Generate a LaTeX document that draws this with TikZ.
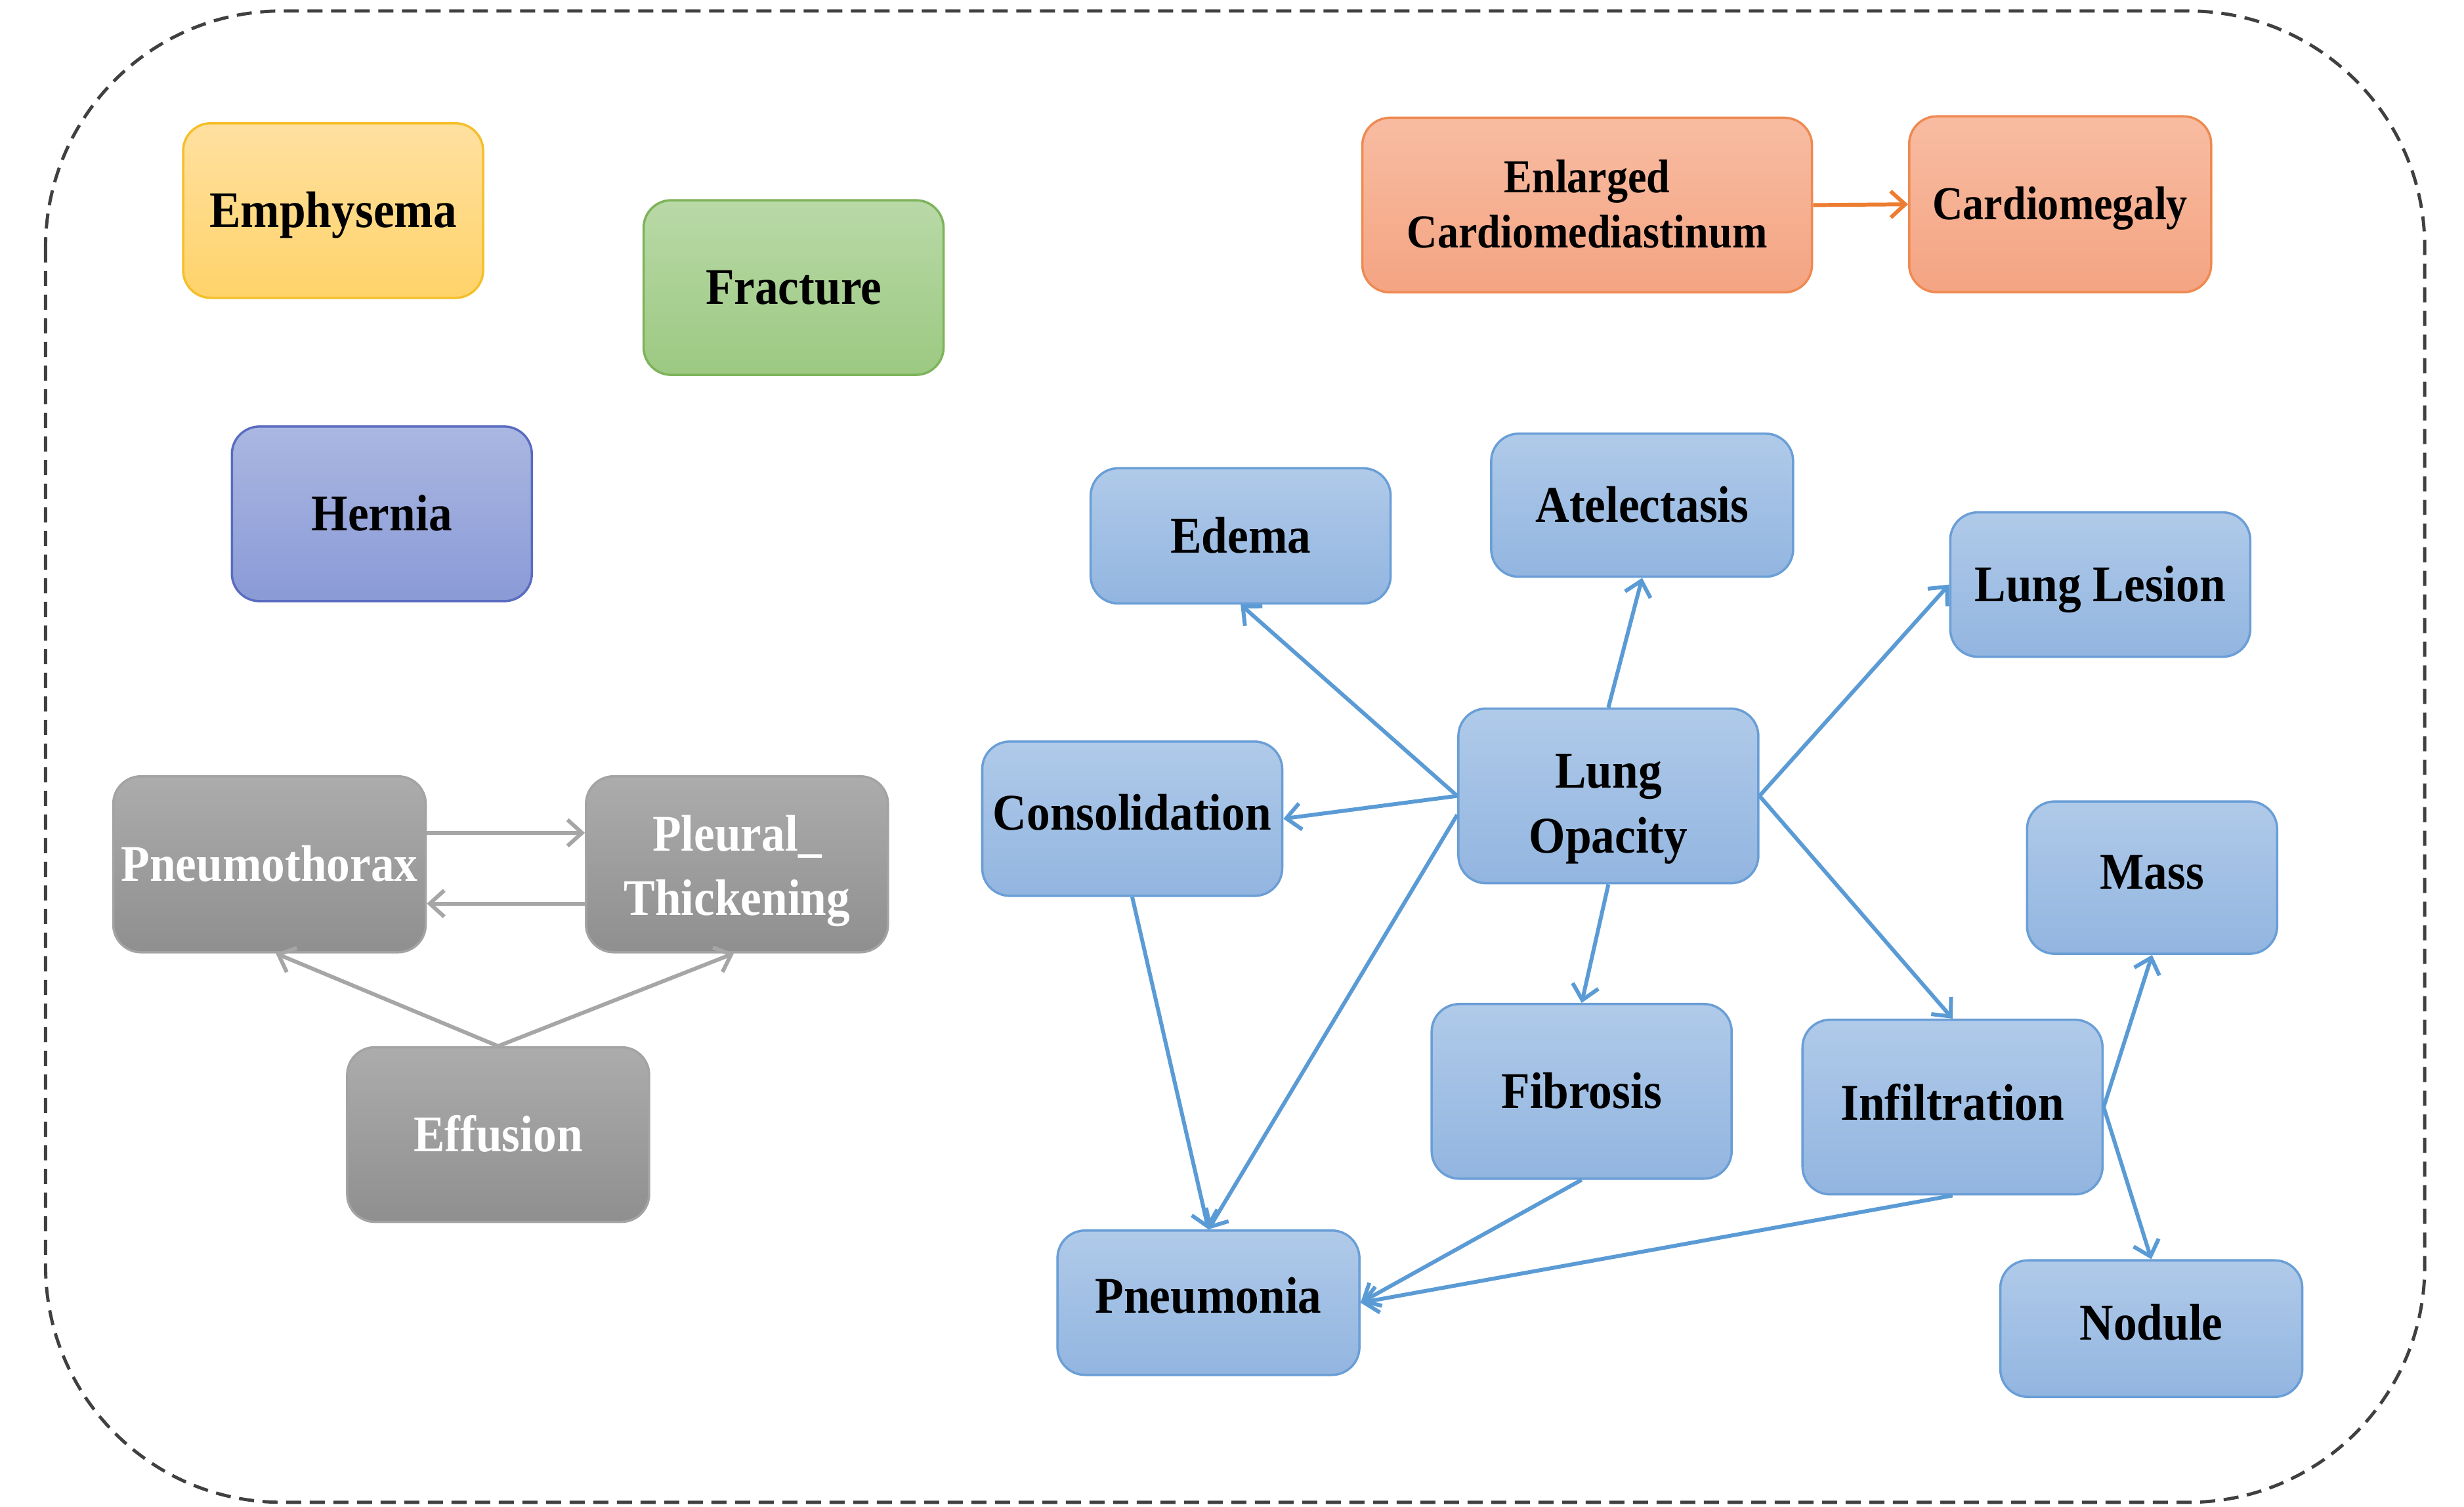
\documentclass[tikz,border=0pt]{standalone}
\usepackage{fontspec}
\setmainfont{Liberation Serif}[FakeStretch=0.91]
\newfontfamily\condfont{Liberation Serif}[FakeStretch=0.89]
\usetikzlibrary{arrows.meta,calc}
\definecolor{bluetop}{HTML}{B0CAE9}
\definecolor{bluebot}{HTML}{92B5E0}
\definecolor{blueedge}{HTML}{6A9ED6}
\definecolor{bluearrow}{HTML}{5B9BD5}
\definecolor{graytop}{HTML}{ACACAC}
\definecolor{graybot}{HTML}{8F8F8F}
\definecolor{grayedge}{HTML}{A3A3A3}
\definecolor{grayarrow}{HTML}{A6A6A6}
\definecolor{orangetop}{HTML}{F8BCA2}
\definecolor{orangebot}{HTML}{F4A482}
\definecolor{orangeedge}{HTML}{EE8A52}
\definecolor{orangearrow}{HTML}{ED7D31}
\definecolor{yellowtop}{HTML}{FFE0A0}
\definecolor{yellowbot}{HTML}{FFD36A}
\definecolor{yellowedge}{HTML}{F5BF2A}
\definecolor{greentop}{HTML}{B9D9A7}
\definecolor{greenbot}{HTML}{9CC982}
\definecolor{greenedge}{HTML}{7DB35A}
\definecolor{herniatop}{HTML}{AAB7E2}
\definecolor{herniabot}{HTML}{8A9AD6}
\definecolor{herniaedge}{HTML}{5A6CC0}
\definecolor{frameline}{HTML}{404040}
% two-line label: baselineskip, downward shift, line 1, line 2
\newcommand\twolines[4]{\baselineskip=#1\relax
  \raisebox{-#2}[\height][\depth]{\begin{tabular}{@{}c@{}}#3\\#4\end{tabular}}}
\tikzset{
  box/.style={draw, rounded corners=0.42cm, line width=1pt, minimum width=4.57cm,
    minimum height=2.66cm, inner sep=1pt,
    font=\fontsize{22.3pt}{28pt}\selectfont\bfseries},
  capc/.style={text height=14.6pt, text depth=#1},
  capc/.default=0pt,
  bluebox/.style={box, top color=bluetop, bottom color=bluebot, draw=blueedge},
  graybox/.style={box, top color=graytop, bottom color=graybot, draw=grayedge, text=white},
  orangebox/.style={box, top color=orangetop, bottom color=orangebot, draw=orangeedge,
    font=\fontsize{20.5pt}{24pt}\selectfont\condfont\bfseries},
  yellowbox/.style={box, top color=yellowtop, bottom color=yellowbot, draw=yellowedge},
  greenbox/.style={box, top color=greentop, bottom color=greenbot, draw=greenedge},
  herniabox/.style={box, top color=herniatop, bottom color=herniabot, draw=herniaedge},
  tipstyle/.style={-{Straight Barb[length=0.22cm,width=0.4cm]}, line width=1.7pt},
  barrow/.style={tipstyle, draw=bluearrow},
  garrow/.style={tipstyle, draw=grayarrow},
  oarrow/.style={tipstyle, draw=orangearrow},
  framestyle/.style={draw=frameline, line width=1.4pt, dash pattern=on 0.23cm off 0.13cm,
    rounded corners=3.6cm}
}
\begin{document}
\begin{tikzpicture}[x=0.02394cm, y=-0.02394cm]
\useasboundingbox (0,0) rectangle (1568,959);
\draw[framestyle] (29,7) rectangle (1543,956);

% isolated nodes
\node[yellowbox, capc] (em) at (212,134) {Emphysema};
\node[greenbox, capc] (fr) at (505,183) {Fracture};
\node[herniabox, capc] (he) at (243,327) {Hernia};

% orange
\node[orangebox, minimum width=6.85cm] (en) at (1010,130.5)
  {\twolines{24.2pt}{0.065cm}{Enlarged}{Cardiomediastinum}};
\node[orangebox, capc, text height=13.4pt, minimum width=4.6cm, minimum height=2.68cm] (ca) at (1311,130) {Cardiomegaly};

% gray
\node[graybox, capc, minimum width=4.76cm, minimum height=2.68cm] (px) at (171.5,550) {Pneumothorax};
\node[graybox, minimum width=4.6cm, minimum height=2.68cm] (pl) at (469,550)
  {\twolines{27.3pt}{0.088cm}{Pleural\_}{Thickening}};
\node[graybox, capc, minimum width=4.6cm] (ef) at (317,722) {Effusion};

% blue
\node[bluebox, capc, minimum height=2.06cm] (ed) at (789.5,341) {Edema};
\node[bluebox, capc, minimum width=4.6cm, minimum height=2.18cm] (at) at (1045,321.5) {Atelectasis};
\node[bluebox, capc, minimum height=2.2cm] (ll) at (1336.5,372) {Lung Lesion};
\node[bluebox] (lo) at (1023.5,506.5) {\twolines{29pt}{0.175cm}{Lung}{Opacity}};
\node[bluebox, capc=4.6pt, minimum height=2.35cm] (co) at (720.5,521) {Consolidation};
\node[bluebox, capc=4.8pt, minimum width=3.81cm, minimum height=2.32cm] (ma) at (1369.5,558.5) {Mass};
\node[bluebox, capc] (fi) at (1006.5,694.5) {Fibrosis};
\node[bluebox, capc=3.4pt] (in) at (1242.5,704.5) {Infiltration};
\node[bluebox, capc=5.4pt, minimum width=4.6cm, minimum height=2.2cm] (pn) at (769,829) {Pneumonia};
\node[bluebox, capc=4.8pt, minimum width=4.6cm, minimum height=2.08cm] (no) at (1369,845.5) {Nodule};

% blue connectors
\draw[barrow] (lo.west) -- (ed.south);
\draw[barrow] (lo.north) -- (at.south);
\draw[barrow] (lo.east) -- (ll.west);
\draw[barrow] (lo.west) -- (co.east);
\draw[barrow] ($(lo.west)+(0,12)$) -- (pn.north);
\draw[barrow] (lo.south) -- (fi.north);
\draw[barrow] (lo.east) -- (in.north);
\draw[barrow] (co.south) -- (pn.north);
\draw[barrow] (fi.south) -- (pn.east);
\draw[barrow] (in.south) -- (pn.east);
\draw[barrow] (in.east) -- (ma.south);
\draw[barrow] (in.east) -- (no.north);

% orange connector
\draw[oarrow] (en.east) -- (ca.west);

% gray connectors
\draw[garrow] ($(px.east)+(0,-20)$) -- ($(pl.west)+(0,-20)$);
\draw[garrow] ($(pl.west)+(0,25)$) -- ($(px.east)+(0,25)$);
\draw[garrow] (ef.north) -- ($(px.south)+(4,0)$);
\draw[garrow] (ef.north) -- ($(pl.south)+(-2,0)$);
\end{tikzpicture}
\end{document}
